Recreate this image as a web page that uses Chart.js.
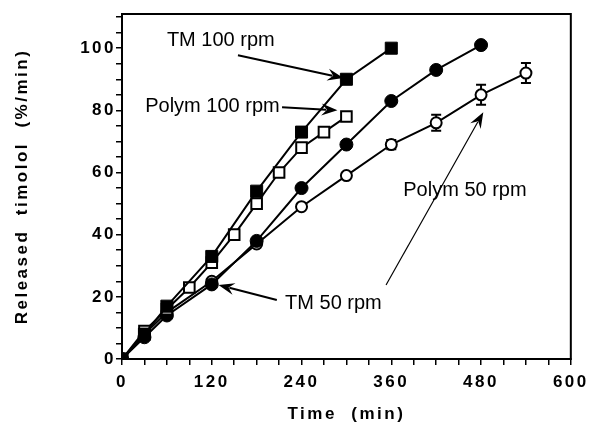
<!DOCTYPE html>
<html>
<head>
<meta charset="utf-8">
<script src="https://cdn.jsdelivr.net/npm/chart.js@4.4.0/dist/chart.umd.min.js"></script>
<style>
  html, body { margin: 0; padding: 0; background: #fff; }
  canvas { display: block; }
</style>
</head>
<body>
<canvas id="releaseChart" width="592" height="428"></canvas>
<script>
// values (time in min, released timolol in %/min)
var tm100Time = [0, 30, 60, 120, 180, 240, 300, 360];
var tm100Released = [0, 8, 17, 33, 54, 73, 90, 100];

var polym100Time = [0, 30, 60, 90, 120, 150, 180, 210, 240, 270, 300];
var polym100Released = [0, 9, 16, 23, 31, 40, 50, 60, 68, 73, 78];

var tm50Time = [0, 30, 60, 120, 180, 240, 300, 360, 420, 480];
var tm50Released = [0, 7, 14, 24, 38, 55, 69, 83, 93, 101];

var polym50Time = [0, 30, 60, 120, 180, 240, 300, 360, 420, 480, 540];
var polym50Released = [0, 8, 15, 25, 37, 49, 59, 69, 76, 85, 92];
var polym50Error = [0, 0, 0, 0, 0, 0, 0, 1.5, 2.6, 3.2, 3.2];

var xTickLabels = [0, 120, 240, 360, 480, 600];
var yTickLabels = [0, 20, 40, 60, 80, 100];

// callout texts with their arrows, in data units
var notes = [
    { text: 'TM 100 rpm', x: 60, y: 102.6, fromX: 155, fromY: 97.7, toX: 296, toY: 90.4 },
    { text: 'Polym 100 rpm', x: 31, y: 81.4, fromX: 214, fromY: 81, toX: 288, toY: 80 },
    { text: 'TM 50 rpm', x: 218, y: 18, fromX: 207, fromY: 19, toX: 129, toY: 23.8 },
    { text: 'Polym 50 rpm', x: 376, y: 54.3, fromX: 353, fromY: 23.8, toX: 483, toY: 79.4, thin: true }
];

function toPoints(times, values) {
    var points = [];
    for (var i = 0; i < times.length; i++) {
        points.push({ x: times[i], y: values[i] });
    }
    return points;
}

function drawArrow(ctx, x1, y1, x2, y2, thin) {
    var angle = Math.atan2(y2 - y1, x2 - x1);
    var headLen = 16;
    var headHalf = 6;
    var cos = Math.cos(angle), sin = Math.sin(angle);
    ctx.beginPath();
    ctx.moveTo(x1, y1);
    ctx.lineTo(x2 - cos * headLen * 0.7, y2 - sin * headLen * 0.7);
    ctx.lineWidth = thin ? 1.2 : 2;
    ctx.strokeStyle = '#000';
    ctx.stroke();
    ctx.beginPath();
    ctx.moveTo(x2, y2);
    ctx.lineTo(x2 - cos * headLen - sin * headHalf, y2 - sin * headLen + cos * headHalf);
    ctx.lineTo(x2 - cos * headLen * 0.65, y2 - sin * headLen * 0.65);
    ctx.lineTo(x2 - cos * headLen + sin * headHalf, y2 - sin * headLen - cos * headHalf);
    ctx.closePath();
    ctx.fillStyle = '#000';
    ctx.fill();
}

var decorations = {
    id: 'decorations',
    beforeDraw: function(chart) {
        chart.ctx.letterSpacing = '2.5px';
    },
    beforeDatasetsDraw: function(chart) {
        var ctx = chart.ctx;
        var xs = chart.scales.x;
        var ys = chart.scales.y;
        ctx.save();
        ctx.letterSpacing = '0px';
        ctx.strokeStyle = '#000';
        ctx.lineWidth = 2;
        for (var i = 0; i < polym50Time.length; i++) {
            if (!polym50Error[i]) continue;
            var px = xs.getPixelForValue(polym50Time[i]);
            var top = ys.getPixelForValue(polym50Released[i] + polym50Error[i]);
            var bottom = ys.getPixelForValue(polym50Released[i] - polym50Error[i]);
            ctx.beginPath();
            ctx.moveTo(px, top);
            ctx.lineTo(px, bottom);
            ctx.moveTo(px - 5, top);
            ctx.lineTo(px + 5, top);
            ctx.moveTo(px - 5, bottom);
            ctx.lineTo(px + 5, bottom);
            ctx.stroke();
        }
        ctx.restore();
    },
    afterDraw: function(chart) {
        var ctx = chart.ctx;
        var area = chart.chartArea;
        var xs = chart.scales.x;
        var ys = chart.scales.y;
        ctx.save();
        ctx.letterSpacing = '0px';
        ctx.strokeStyle = '#000';
        ctx.lineWidth = 2;
        ctx.strokeRect(area.left, area.top, area.right - area.left, area.bottom - area.top);

        ctx.font = '20px "Liberation Sans", Arial, sans-serif';
        ctx.fillStyle = '#000';
        ctx.textAlign = 'left';
        ctx.textBaseline = 'middle';
        notes.forEach(function(note) {
            ctx.fillText(note.text, xs.getPixelForValue(note.x), ys.getPixelForValue(note.y));
            drawArrow(ctx,
                xs.getPixelForValue(note.fromX), ys.getPixelForValue(note.fromY),
                xs.getPixelForValue(note.toX), ys.getPixelForValue(note.toY),
                note.thin);
        });
        ctx.restore();
        ctx.letterSpacing = '0px';
    }
};

var tickFont = { family: '"Liberation Sans", Arial, sans-serif', size: 17, weight: 'bold' };

var chart = new Chart(document.getElementById('releaseChart'), {
    type: 'line',
    data: {
        datasets: [{
            label: 'TM 100 rpm',
            data: toPoints(tm100Time, tm100Released),
            pointStyle: 'rect',
            pointRadius: 8.5,
            pointBackgroundColor: '#000',
            pointBorderWidth: 1
        }, {
            label: 'Polym 100 rpm',
            data: toPoints(polym100Time, polym100Released),
            pointStyle: 'rect',
            pointRadius: 7.5,
            pointBackgroundColor: '#fff',
            pointBorderWidth: 2
        }, {
            label: 'TM 50 rpm',
            data: toPoints(tm50Time, tm50Released),
            pointStyle: 'circle',
            pointRadius: 6.5,
            pointBackgroundColor: '#000',
            pointBorderWidth: 1
        }, {
            label: 'Polym 50 rpm',
            data: toPoints(polym50Time, polym50Released),
            pointStyle: 'circle',
            pointRadius: 5.5,
            pointBackgroundColor: '#fff',
            pointBorderWidth: 2
        }]
    },
    options: {
        responsive: false,
        animation: false,
        devicePixelRatio: 1,
        layout: { padding: { top: 14, right: 21, left: 0, bottom: 0 } },
        elements: {
            line: { borderColor: '#000', borderWidth: 2, tension: 0, fill: false },
            point: { borderColor: '#000' }
        },
        plugins: {
            legend: { display: false },
            tooltip: { enabled: false }
        },
        scales: {
            x: {
                type: 'linear',
                min: 0,
                max: 600,
                afterFit: function(scale) { scale.height = 69; },
                ticks: {
                    stepSize: 30,
                    autoSkip: false,
                    maxRotation: 0,
                    color: '#000',
                    font: tickFont,
                    padding: 7,
                    callback: function(value) {
                        return xTickLabels.indexOf(value) >= 0 ? String(value) : '';
                    }
                },
                grid: { drawOnChartArea: false, tickLength: 6, color: '#000', lineWidth: 1.5 },
                border: { color: '#000', width: 2 },
                title: {
                    display: true,
                    text: 'Time  (min)',
                    color: '#000',
                    font: tickFont,
                    padding: { top: 0, bottom: 3 }
                }
            },
            y: {
                min: 0,
                max: 111,
                afterFit: function(scale) { scale.width = 122; },
                ticks: {
                    stepSize: 5,
                    includeBounds: false,
                    autoSkip: false,
                    color: '#000',
                    font: tickFont,
                    padding: 0,
                    callback: function(value) {
                        return yTickLabels.indexOf(value) >= 0 ? String(value) : '';
                    }
                },
                grid: { drawOnChartArea: false, tickLength: 6, color: '#000', lineWidth: 1.5 },
                border: { color: '#000', width: 2 },
                title: {
                    display: true,
                    text: 'Released  timolol  (%/min)',
                    color: '#000',
                    font: tickFont,
                    padding: { top: 12, bottom: 0 }
                }
            }
        }
    },
    plugins: [decorations]
});
</script>
</body>
</html>
